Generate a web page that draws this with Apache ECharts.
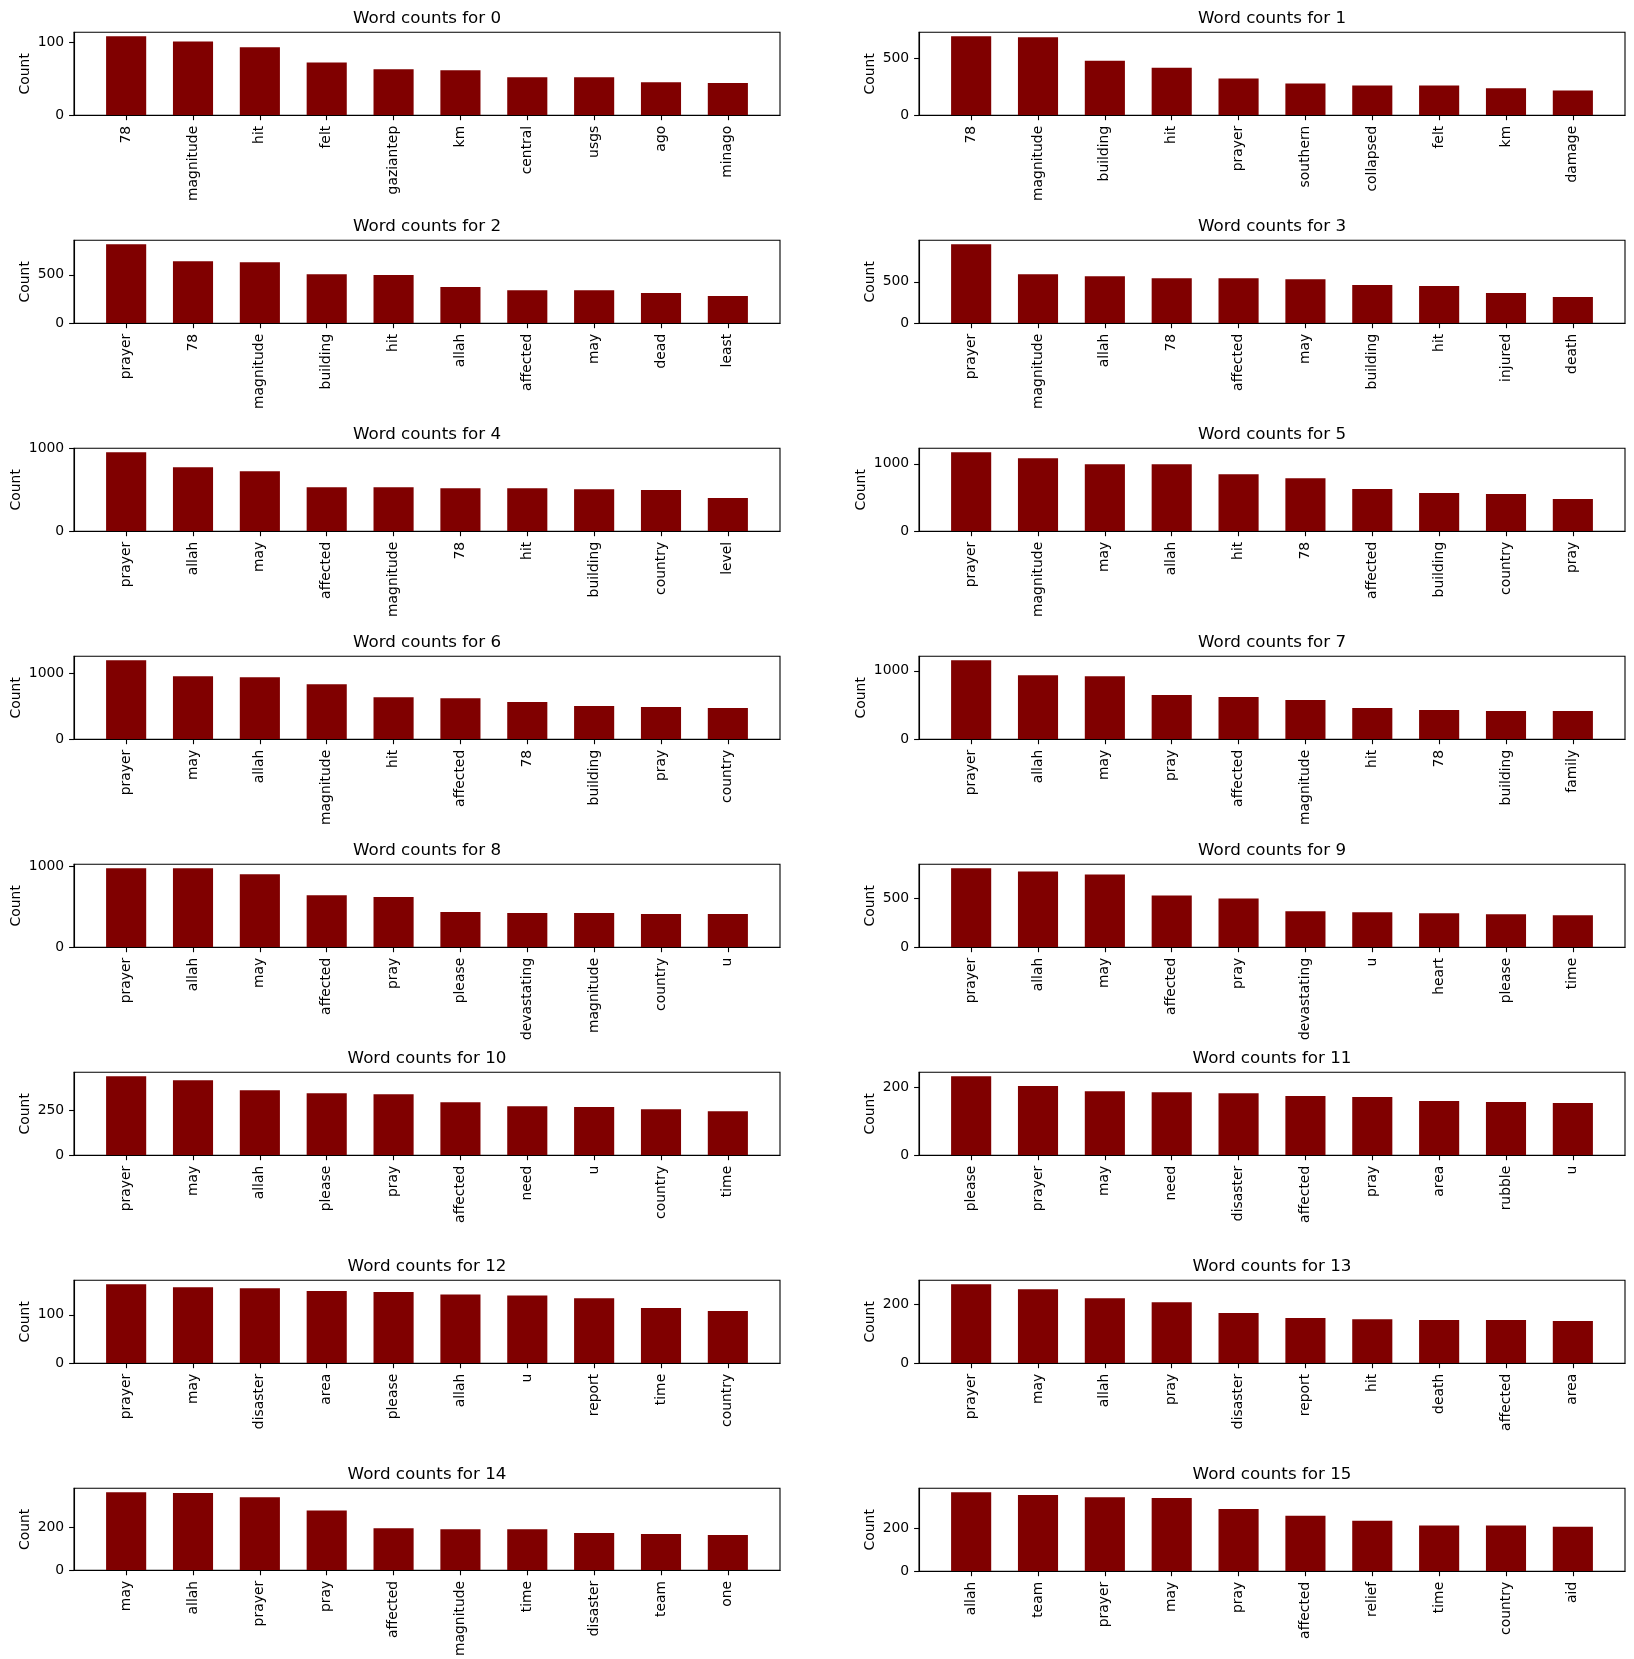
<!DOCTYPE html>
<html>
<head>
<meta charset="utf-8">
<style>
  html, body { margin: 0; padding: 0; background: #ffffff; }
  #chart { width: 1634px; height: 1659px; }
</style>
<script src="https://cdn.jsdelivr.net/npm/echarts@6/dist/echarts.min.js"></script>
</head>
<body>
<div id="chart"></div>
<script>
// ---------------- DATA ----------------
const words_0  = ['78','magnitude','hit','felt','gaziantep','km','central','usgs','ago','minago'];
const counts_0 = [108, 101, 93, 72, 63, 61.5, 52, 52, 45, 44];

const words_1  = ['78','magnitude','building','hit','prayer','southern','collapsed','felt','km','damage'];
const counts_1 = [692, 684, 477, 417, 322, 279, 261, 260, 236, 218];

const words_2  = ['prayer','78','magnitude','building','hit','allah','affected','may','dead','least'];
const counts_2 = [815, 640, 630, 507, 497, 373, 342, 342, 312, 281];

const words_3  = ['prayer','magnitude','allah','78','affected','may','building','hit','injured','death'];
const counts_3 = [952, 592, 568, 544, 544, 532, 460, 448, 364, 316];

const words_4  = ['prayer','allah','may','affected','magnitude','78','hit','building','country','level'];
const counts_4 = [956, 775, 727, 534, 534, 522, 522, 510, 498, 402];

const words_5  = ['prayer','magnitude','may','allah','hit','78','affected','building','country','pray'];
const counts_5 = [1172, 1084, 995, 995, 847, 788, 626, 567, 552, 478];

const words_6  = ['prayer','may','allah','magnitude','hit','affected','78','building','pray','country'];
const counts_6 = [1202, 960, 944, 838, 641, 626, 566, 505, 490, 475];

const words_7  = ['prayer','allah','may','pray','affected','magnitude','hit','78','building','family'];
const counts_7 = [1155, 937, 922, 646, 617, 573, 456, 427, 413, 413];

const words_8  = ['prayer','allah','may','affected','pray','please','devastating','magnitude','country','u'];
const counts_8 = [975, 975, 902, 643, 619, 434, 422, 422, 410, 410];

const words_9  = ['prayer','allah','may','affected','pray','devastating','u','heart','please','time'];
const counts_9 = [808, 774, 743, 530, 500, 368, 358, 348, 338, 328];

const words_10  = ['prayer','may','allah','please','pray','affected','need','u','country','time'];
const counts_10 = [441, 419, 363, 346, 341, 296, 274, 269, 257, 246];

const words_11  = ['please','prayer','may','need','disaster','affected','pray','area','rubble','u'];
const counts_11 = [233, 204, 189, 186, 183, 175, 172, 160, 157, 154];

const words_12  = ['prayer','may','disaster','area','please','allah','u','report','time','country'];
const counts_12 = [163, 157, 155, 149, 147, 142, 140, 134, 114, 108];

const words_13  = ['prayer','may','allah','pray','disaster','report','hit','death','affected','area'];
const counts_13 = [269, 252, 221, 208, 171, 154, 150, 147, 147, 144];

const words_14  = ['may','allah','prayer','pray','affected','magnitude','time','disaster','team','one'];
const counts_14 = [365, 361, 342, 279, 197, 192, 192, 174, 170, 165];

const words_15  = ['allah','team','prayer','may','pray','affected','relief','time','country','aid'];
const counts_15 = [365, 352, 342, 338, 288, 256, 233, 211, 211, 206];

const yTickStep = [100, 500, 500, 500, 1000, 1000, 1000, 1000, 1000, 500, 250, 200, 100, 200, 200, 200];

const panelWords  = [words_0, words_1, words_2, words_3, words_4, words_5, words_6, words_7,
                     words_8, words_9, words_10, words_11, words_12, words_13, words_14, words_15];
const panelCounts = [counts_0, counts_1, counts_2, counts_3, counts_4, counts_5, counts_6, counts_7,
                     counts_8, counts_9, counts_10, counts_11, counts_12, counts_13, counts_14, counts_15];

// ---------------- LAYOUT ----------------
const FONT = 'DejaVu Sans';
const colLeft = [74, 919];
const axW = 706, axH = 83;
const rowTop0 = 32.3, rowStep = 208;
const xMin = -0.78, xMax = 9.78;
const tickLen = 4.9;
const labelFs = 13.9, titleFs = 16.7;
const barColor = '#800000';

const grids = [], xAxes = [], yAxes = [], series = [], graphics = [];

for (let p = 0; p < 16; p++) {
  const col = p % 2, row = Math.floor(p / 2);
  const left = colLeft[col];
  const top = rowTop0 + row * rowStep;
  const cats = panelWords[p];
  const vals = panelCounts[p];
  const yMax = Math.max(...vals) * 1.05;
  const step = yTickStep[p];
  const yTicks = [];
  for (let v = 0; v <= yMax + 1e-9; v += step) yTicks.push(v);
  const maxDigits = Math.max(...yTicks.map(v => String(v).length));
  const nameGap = tickLen + 4.9 + maxDigits * 0.636 * labelFs + 5.6;
  const idx = cats.map((_, i) => i);

  grids.push({
    left: left, top: top, width: axW, height: axH,
    show: true, borderColor: '#000', borderWidth: 1.1, backgroundColor: 'transparent',
    containLabel: false
  });

  xAxes.push({
    type: 'value', gridIndex: p, min: xMin, max: xMax, z: 5,
    splitLine: { show: false },
    axisLine: { show: true, onZero: false, lineStyle: { color: '#000', width: 1.1 } },
    axisTick: { show: true, customValues: idx, length: tickLen, inside: false,
                lineStyle: { color: '#000', width: 1.1 } },
    axisLabel: { show: true, customValues: idx, rotate: 90, margin: 10.5,
                 fontFamily: FONT, fontSize: labelFs, color: '#000',
                 formatter: (v) => cats[Math.round(v)] }
  });

  yAxes.push({
    type: 'value', gridIndex: p, min: 0, max: yMax, z: 5,
    name: 'Count', nameLocation: 'middle', nameGap: nameGap,
    nameTextStyle: { fontFamily: FONT, fontSize: labelFs, color: '#000' },
    splitLine: { show: false },
    axisLine: { show: true, onZero: false, lineStyle: { color: '#000', width: 1.1 } },
    axisTick: { show: true, customValues: yTicks, length: tickLen, inside: false,
                lineStyle: { color: '#000', width: 1.1 } },
    axisLabel: { show: true, customValues: yTicks, margin: 9.8,
                 fontFamily: FONT, fontSize: labelFs, color: '#000',
                 formatter: (v) => String(Math.round(v)) }
  });

  series.push({
    type: 'bar', xAxisIndex: p, yAxisIndex: p,
    data: vals.map((v, i) => [i, v]),
    barWidth: 0.6 * axW / (xMax - xMin),
    itemStyle: { color: barColor },
    silent: true, animation: false
  });

  graphics.push({
    type: 'text', x: left + axW / 2, y: top - 13.5, silent: true,
    style: { text: 'Word counts for ' + p, fill: '#000', fontFamily: FONT, fontSize: titleFs,
             textAlign: 'center', textVerticalAlign: 'middle' }
  });
}

const chart = echarts.init(document.getElementById('chart'), null, { renderer: 'canvas' });
chart.setOption({
  backgroundColor: '#ffffff',
  animation: false,
  grid: grids,
  xAxis: xAxes,
  yAxis: yAxes,
  series: series,
  graphic: graphics
});
</script>
</body>
</html>
